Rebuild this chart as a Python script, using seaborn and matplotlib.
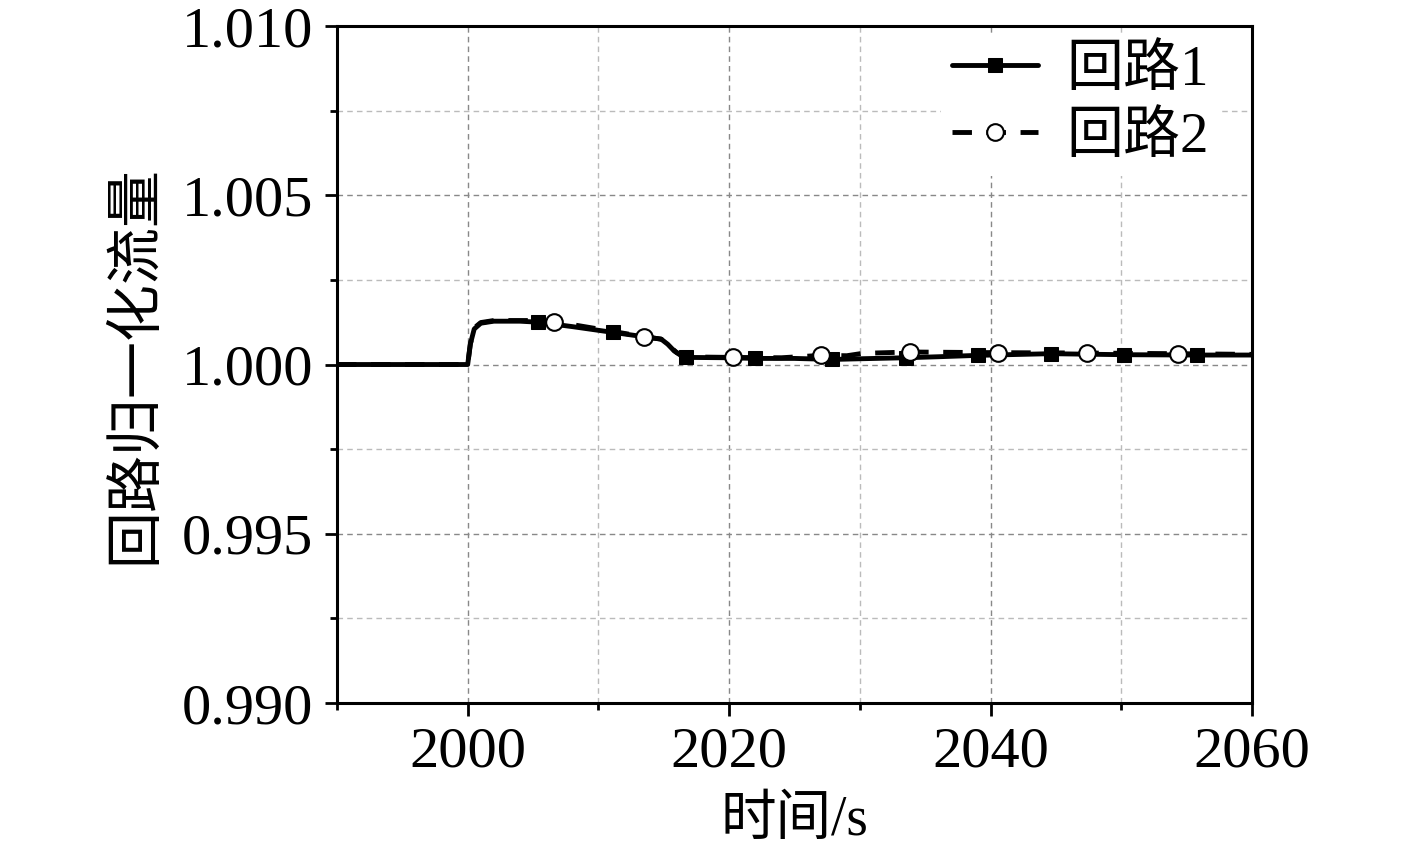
import numpy as np
import seaborn as sns
import matplotlib.pyplot as plt
from matplotlib.ticker import MultipleLocator

# loop 1 (回路1)
t1 = [1990, 2000, 2000.2, 2000.5, 2001, 2002, 2004, 2005.4, 2008, 2011.1, 2013.5,
      2014.8, 2015.3, 2015.8, 2016.3, 2016.7, 2020, 2022.0, 2025, 2027.9, 2030,
      2033.5, 2036, 2039.0, 2044.6, 2050.2, 2055.8, 2060]
y1 = [1.0, 1.0, 1.0006, 1.00105, 1.00122, 1.00128, 1.00128, 1.00125, 1.00112, 1.00095, 1.00082,
      1.00075, 1.0006, 1.0004, 1.00027, 1.00021, 1.0002, 1.00018, 1.00018, 1.00015, 1.00017,
      1.0002, 1.00023, 1.00027, 1.00032, 1.00029, 1.00028, 1.00028]
mk1 = [2005.4, 2011.1, 2016.7, 2022.0, 2027.9, 2033.5, 2039.0, 2044.6, 2050.2, 2055.8]

# loop 2 (回路2)
t2 = [1990, 2000, 2000.2, 2000.5, 2001, 2002, 2005, 2006.6, 2010, 2013.5, 2014.8,
      2015.4, 2016, 2016.6, 2018, 2020.3, 2024, 2027.0, 2029, 2030.2, 2033.8,
      2040.6, 2047.4, 2054.3, 2060]
y2 = [1.0, 1.0, 1.0006, 1.00108, 1.00124, 1.0013, 1.0013, 1.00127, 1.00105, 1.00082, 1.00075,
      1.00055, 1.00035, 1.00025, 1.00022, 1.00021, 1.0002, 1.00027, 1.00026, 1.00033, 1.00037,
      1.00035, 1.00034, 1.00032, 1.0003]
mk2 = [2006.6, 2013.5, 2020.3, 2027.0, 2033.8, 2040.6, 2047.4, 2054.3]

sns.set_theme(style="ticks")
fonts = ['Liberation Serif', 'Noto Sans CJK SC']
plt.rcParams['font.family'] = fonts
plt.rcParams['text.color'] = 'black'
plt.rcParams['axes.labelcolor'] = 'black'
plt.rcParams['axes.unicode_minus'] = False

fig = plt.figure(figsize=(14.17, 8.5), dpi=100)
ax = fig.add_axes([0.2378, 0.1729, 0.6458, 0.7965])

sns.lineplot(x=t1, y=y1, ax=ax, color='black', lw=3.5, estimator=None,
             marker='s', markersize=10.5, markevery=list(np.isin(t1, mk1)),
             markeredgecolor='black', markerfacecolor='black', label='回路1')
sns.lineplot(x=t2, y=y2, ax=ax, color='black', lw=3.5, estimator=None,
             linestyle=(0, (4, 3)), marker='o', markersize=12,
             markevery=list(np.isin(t2, mk2)), markerfacecolor='white',
             markeredgecolor='black', markeredgewidth=1.5, label='回路2')

ax.set_xlim(1990, 2060)
ax.set_ylim(0.990, 1.010)
ax.xaxis.set_major_locator(MultipleLocator(20))
ax.xaxis.set_minor_locator(MultipleLocator(10))
ax.yaxis.set_major_locator(MultipleLocator(0.005))
ax.yaxis.set_minor_locator(MultipleLocator(0.0025))
ax.yaxis.set_major_formatter(plt.FormatStrFormatter('%.3f'))

ax.grid(which='major', color='#888888', linestyle=(0, (4, 3)), lw=1)
ax.grid(which='minor', color='#bbbbbb', linestyle=(0, (4, 3)), lw=1)
ax.set_axisbelow(True)

for s in ax.spines.values():
    s.set_linewidth(2.2)
    s.set_color('black')
ax.tick_params(which='major', direction='out', length=9, width=2, labelsize=42,
               colors='black', pad=8)
ax.tick_params(which='minor', direction='out', length=5, width=2, colors='black')

ax.set_xlabel('时间/s', fontsize=40, labelpad=12)
ax.set_ylabel('回路归一化流量', fontsize=41, labelpad=14)

leg = ax.legend(loc='upper right', bbox_to_anchor=(0.965, 0.99), fontsize=41,
                frameon=True, framealpha=1, edgecolor='none', facecolor='white',
                handlelength=1.5, handletextpad=0.5, labelspacing=0.25,
                borderaxespad=0.0, borderpad=0.2, fancybox=False)

fig.savefig('out.png', dpi=100)
